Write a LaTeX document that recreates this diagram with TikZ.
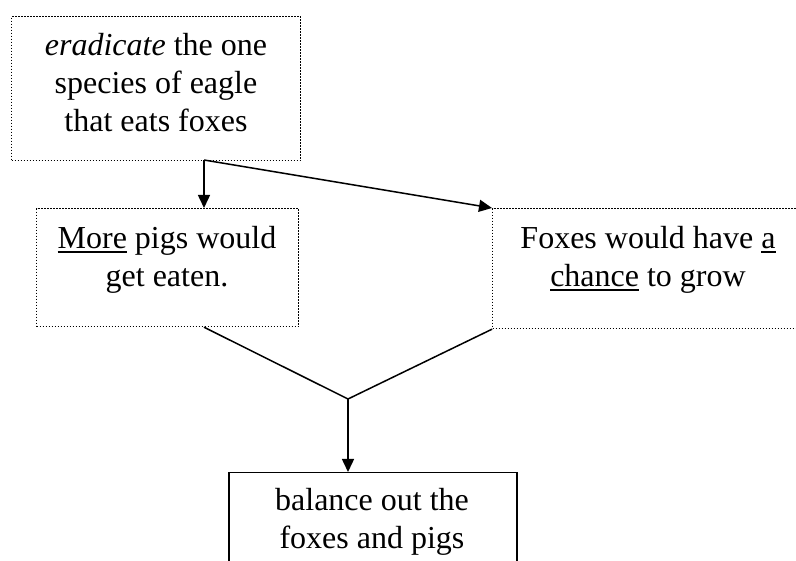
\documentclass[tikz,border=0pt]{standalone}
\usepackage{fontspec}
\setmainfont{Liberation Serif}
\usetikzlibrary{arrows.meta}
% underline drawn as a rule just below the baseline
\newcommand{\ulword}[1]{\setbox0\hbox{#1}\rlap{\rule[-4.5pt]{\wd0}{1.7pt}}\box0\relax}
\begin{document}
\begin{tikzpicture}[x=1pt,y=-1pt,
  dotbox/.style={draw, rectangle, anchor=north west, inner sep=0pt,
    line width=1.2pt, dash pattern=on 1.2pt off 1.8pt},
  solidbox/.style={draw, rectangle, anchor=north west, inner sep=0pt,
    line width=1.5pt},
  boxtext/.style={anchor=north, inner sep=0pt, align=center,
    font=\fontsize{32}{38}\selectfont},
  link/.style={line width=1.5pt},
  arrowlink/.style={link, -{Triangle[length=13pt,width=12pt]}}]
\useasboundingbox (0,0) rectangle (796,561);
\clip (0,0) rectangle (796,561);

% boxes
\node[dotbox, minimum width=289pt, minimum height=144pt] (cause) at (11,16) {};
\node[dotbox, minimum width=262pt, minimum height=118pt] (pigs) at (36,208) {};
\node[dotbox, minimum width=312pt, minimum height=120pt] (foxes) at (492,208) {};
\node[solidbox, minimum width=288pt, minimum height=130pt] (balance) at (228,472) {};

% texts
\node[boxtext] (causetext) at (156,28.4)
  {\strut\textit{eradicate} the one\\\strut species of eagle\\\strut that eats foxes};
\node[boxtext] (pigstext) at (167,221.4)
  {\strut\ulword{More} pigs would\\\strut get eaten.};
\node[boxtext] (foxestext) at (648,221.4)
  {\strut Foxes would have \ulword{a}\\\strut\ulword{chance} to grow};
\node[boxtext] (balancetext) at (372,483.4)
  {\strut balance out the\\\strut foxes and pigs};

% connectors
\coordinate (split) at (204,160);
\coordinate (join) at (348,399);
\draw[arrowlink] (split) -- (split |- pigs.north);
\draw[arrowlink] (split) -- (foxes.north west);
\draw[link] (pigs.south -| split) -- (join) -- (foxes.south west);
\draw[arrowlink] (join) -- (join |- balance.north);
\end{tikzpicture}
\end{document}
